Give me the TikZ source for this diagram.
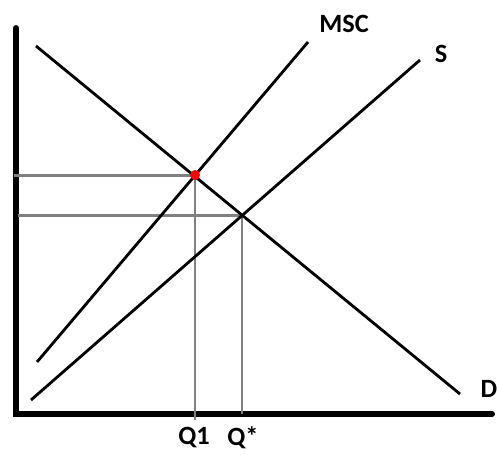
\documentclass[tikz,border=0pt]{standalone}
\usepackage{fontspec}
\setmainfont{Carlito}
\usetikzlibrary{positioning}

\begin{document}
\begin{tikzpicture}[
  x=0.02cm, y=-0.02cm,
  axis/.style={line width=3.4pt},
  curve/.style={line width=1.6pt},
  guide/.style={line width=1.7pt,draw=gray},
  lbl/.style={font=\fontsize{15}{17}\selectfont\bfseries,inner sep=0pt}
]
\useasboundingbox (0,0) rectangle (497,454);
% axes
\coordinate (top) at (16,28);
\coordinate (origin) at (16,414);
\coordinate (right) at (492,414);
\draw[axis,line cap=round] (top) -- (origin) -- (right);
% curves
\coordinate (d1) at (36,46);
\coordinate (d2) at (460,394);
\coordinate (m1) at (37,362);
\coordinate (m2) at (308,42);
\coordinate (s1) at (31,400);
\coordinate (s2) at (420,60);
% equilibria
\coordinate (eq1) at (195,175);
\coordinate (eqs) at (242,215);
\coordinate (p1) at (14,175);
\coordinate (ps) at (18,215);
\coordinate (q1) at (195,420);
\coordinate (qs) at (242,414);
\draw[guide] (p1) -- (eq1) -- (q1);
\draw[guide] (ps) -- (eqs) -- (qs);
\draw[curve] (d1) -- (d2);
\draw[curve] (m1) -- (m2);
\draw[curve] (s1) -- (s2);
\fill[red] (eq1) circle (5);
% labels
\node[lbl] (msc) at (344,24) {MSC};
\node[lbl] (slbl) at (441,54) {S};
\node[lbl] (dlbl) at (489,389) {D};
\node[lbl] (qone) at (194,438) {Q1};
\node[lbl] (qstar) at (243,438) {Q*};
\end{tikzpicture}
\end{document}
